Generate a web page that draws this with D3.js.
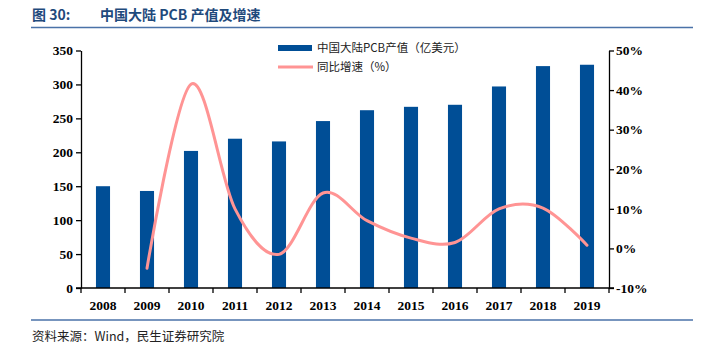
<!DOCTYPE html>
<html><head><meta charset="utf-8">
<script src="https://cdn.jsdelivr.net/npm/d3@7/dist/d3.min.js"></script>
<style>body{margin:0;background:#fff;}svg{display:block;}</style>
</head><body><svg id="c" width="717" height="345"></svg>
<script>
const years = ["2008","2009","2010","2011","2012","2013","2014","2015","2016","2017","2018","2019"];
const output = [150, 143, 202, 220, 216, 246, 262, 267, 270, 297, 327, 329];
const growthYears = ["2009","2010","2011","2012","2013","2014","2015","2016","2017","2018","2019"];
const growth = [-5, 41.5, 10, -1.5, 14, 7, 2.6, 1.5, 10, 10.2, 0.8];
const leftTicks = [0, 50, 100, 150, 200, 250, 300, 350];
const rightTicks = [-10, 0, 10, 20, 30, 40, 50];
const legendLabels = ["中国大陆PCB产值（亿美元）", "同比增速（%）"];

const svg = d3.select("#c");
const L = 81, R = 609, T = 50.5, B = 288;
const x = d3.scaleBand().domain(years).range([L, R]).paddingInner(0.68).paddingOuter(0.34);
const yL = d3.scaleLinear().domain([0, 350]).range([B, T]);
const yR = d3.scaleLinear().domain([-10, 50]).range([B, T]);
const barColor = "#004e96", lineColor = "#ff9494", ruleColor = "#4a72a8";
const axisFont = "'Liberation Serif', 'Times New Roman', serif";

// title
svg.append("text").attr("x", 32).attr("y", 20).attr("font-family", "'Noto Sans CJK SC', sans-serif")
  .attr("font-weight", "bold").attr("font-size", 14).attr("fill", "#1f4a7c").text("图 30:");
svg.append("text").attr("x", 100).attr("y", 20).attr("font-family", "'Noto Sans CJK SC', sans-serif")
  .attr("font-weight", "bold").attr("font-size", 14).attr("fill", "#1f4a7c").text("中国大陆 PCB 产值及增速");
svg.append("line").attr("x1", 31).attr("x2", 693).attr("y1", 27.5).attr("y2", 27.5).attr("stroke", ruleColor).attr("stroke-width", 1.5);
svg.append("line").attr("x1", 31).attr("x2", 693).attr("y1", 320).attr("y2", 320).attr("stroke", ruleColor).attr("stroke-width", 1.5);
svg.append("text").attr("x", 32).attr("y", 337).attr("dy", "0.35em").attr("font-family", "'Noto Sans CJK SC', sans-serif")
  .attr("font-size", 12.5).attr("fill", "#222").text("资料来源：Wind，民生证券研究院");

// bars
svg.append("g").selectAll("rect").data(years).join("rect")
  .attr("x", d => x(d)).attr("width", x.bandwidth())
  .attr("y", (d, i) => yL(output[i])).attr("height", (d, i) => B - yL(output[i]))
  .attr("fill", barColor);

// line
const cx = d => x(d) + x.bandwidth() / 2;
const line = d3.line().x((d, i) => cx(growthYears[i])).y(d => yR(d)).curve(d3.curveCardinal.tension(0));
svg.append("path").datum(growth).attr("d", line).attr("fill", "none")
  .attr("stroke", lineColor).attr("stroke-width", 3).attr("stroke-linecap", "round");

// axes
function styleAxis(g) {
  g.selectAll("path,line").attr("stroke", "#000").attr("stroke-width", 1.3);
  g.selectAll("text").attr("font-family", axisFont).attr("font-weight", "bold").attr("font-size", 13.5).attr("fill", "#000");
}
const gl = svg.append("g").attr("transform", `translate(${L},0)`)
  .call(d3.axisLeft(yL).tickValues(leftTicks).tickSize(5).tickSizeOuter(0).tickPadding(3));
styleAxis(gl);
const gr = svg.append("g").attr("transform", `translate(${R},0)`)
  .call(d3.axisRight(yR).tickValues(rightTicks).tickSize(5).tickSizeOuter(0).tickPadding(2).tickFormat(d => d + "%"));
styleAxis(gr);
const gx = svg.append("g").attr("transform", `translate(0,${B})`)
  .call(d3.axisBottom(x).tickSize(0).tickPadding(12));
styleAxis(gx);
gx.select("path").attr("d", `M${L - 5},0H${R + 5}`);
// category separator ticks
const step = x.step();
svg.append("g").selectAll("line").data(d3.range(years.length + 1)).join("line")
  .attr("x1", i => L + i * step).attr("x2", i => L + i * step)
  .attr("y1", B).attr("y2", B + 5).attr("stroke", "#000").attr("stroke-width", 1.3);

// legend
const lg = svg.append("g");
lg.append("rect").attr("x", 278).attr("y", 45).attr("width", 34).attr("height", 6).attr("fill", barColor);
lg.append("line").attr("x1", 278).attr("x2", 313).attr("y1", 67).attr("y2", 67).attr("stroke", lineColor).attr("stroke-width", 3);
lg.selectAll("text").data(legendLabels).join("text")
  .attr("x", 317).attr("y", (d, i) => 48 + i * 19).attr("dy", "0.35em")
  .attr("font-family", "'Noto Sans CJK SC', sans-serif").attr("font-size", 11.5).attr("fill", "#222").text(d => d);
</script></body></html>
